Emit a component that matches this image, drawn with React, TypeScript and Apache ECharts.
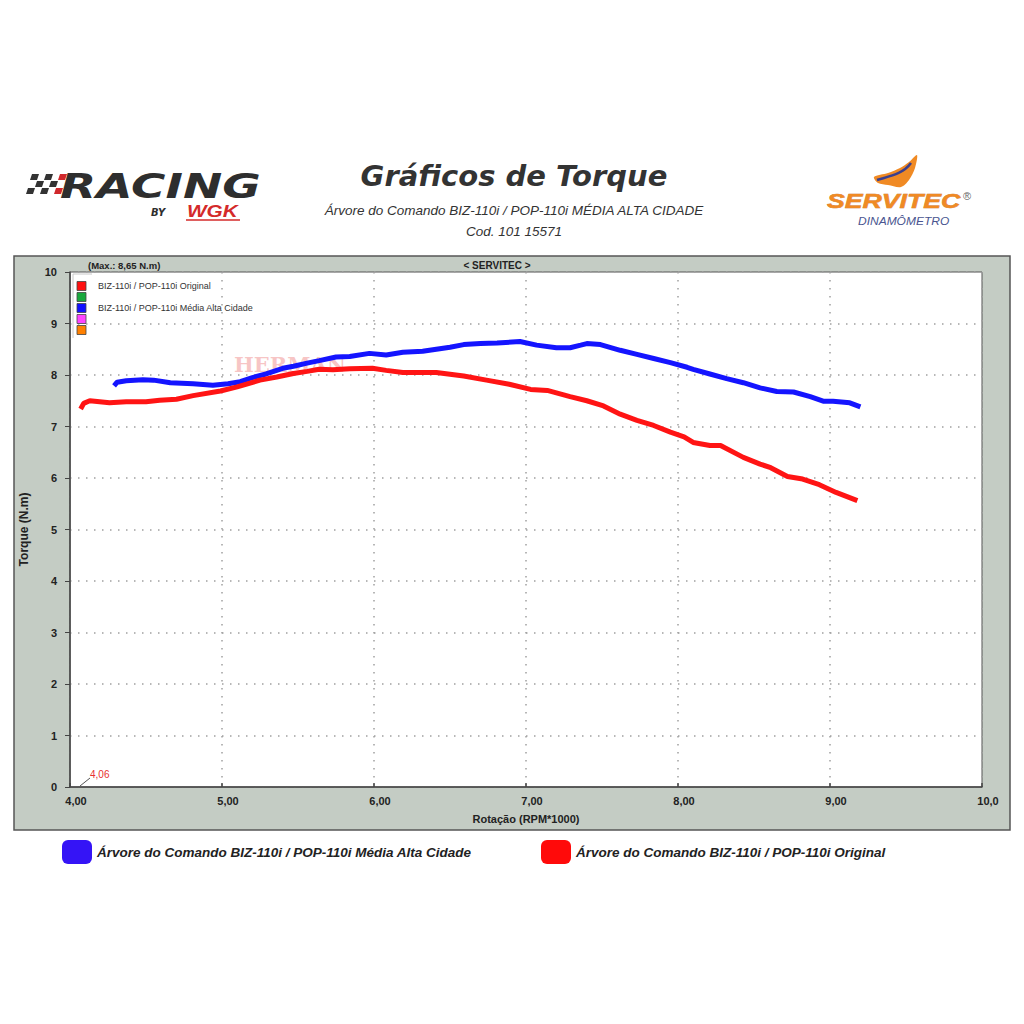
import React, { useEffect, useRef } from "react";
import * as echarts from "echarts";

// ---- data ----
const blueName = "Árvore do Comando BIZ-110i / POP-110i Média Alta Cidade";
const redName = "Árvore do Comando BIZ-110i / POP-110i Original";

const rpmBlue = [4.29, 4.31, 4.37, 4.48, 4.55, 4.66, 4.81, 4.94, 5.04, 5.12, 5.2, 5.29, 5.4, 5.47, 5.56, 5.64, 5.75, 5.84, 5.97, 6.08, 6.19, 6.32, 6.41, 6.5, 6.59, 6.7, 6.81, 6.96, 7.07, 7.2, 7.29, 7.36, 7.4, 7.49, 7.62, 7.73, 7.84, 7.95, 8.06, 8.1, 8.21, 8.32, 8.43, 8.54, 8.65, 8.76, 8.87, 8.96, 9.02, 9.13, 9.2];
const torqueBlue = [7.79, 7.86, 7.89, 7.91, 7.9, 7.85, 7.83, 7.8, 7.83, 7.87, 7.95, 8.02, 8.13, 8.17, 8.23, 8.28, 8.35, 8.36, 8.42, 8.39, 8.44, 8.46, 8.5, 8.54, 8.59, 8.61, 8.62, 8.65, 8.58, 8.53, 8.53, 8.58, 8.61, 8.59, 8.48, 8.4, 8.32, 8.24, 8.15, 8.11, 8.02, 7.93, 7.85, 7.75, 7.68, 7.67, 7.58, 7.49, 7.49, 7.46, 7.38];

const rpmRed = [4.07, 4.09, 4.13, 4.26, 4.37, 4.5, 4.59, 4.7, 4.81, 4.99, 5.1, 5.25, 5.36, 5.47, 5.56, 5.64, 5.73, 5.84, 5.99, 6.08, 6.19, 6.41, 6.59, 6.74, 6.89, 7.03, 7.14, 7.29, 7.4, 7.51, 7.62, 7.73, 7.84, 7.95, 8.04, 8.1, 8.21, 8.28, 8.43, 8.54, 8.61, 8.72, 8.82, 8.93, 9.04, 9.18];
const torqueRed = [7.34, 7.45, 7.5, 7.46, 7.48, 7.48, 7.51, 7.53, 7.6, 7.69, 7.77, 7.9, 7.96, 8.03, 8.07, 8.11, 8.1, 8.12, 8.13, 8.09, 8.05, 8.05, 7.98, 7.9, 7.82, 7.72, 7.7, 7.58, 7.5, 7.4, 7.24, 7.12, 7.02, 6.89, 6.8, 6.69, 6.63, 6.63, 6.4, 6.27, 6.2, 6.03, 5.98, 5.87, 5.72, 5.56];

const innerLegendLabels = ["BIZ-110i / POP-110i Original", "", "BIZ-110i / POP-110i Média Alta Cidade", "", ""];
const innerLegendColors = ["#ff1010", "#18a83c", "#1010ff", "#ff44ff", "#ff8000"];

const xTickFmt = (v: number) => (v === 10 ? "10,0" : v.toFixed(2).replace(".", ","));

export default function App() {
  const ref = useRef<HTMLDivElement>(null);
  useEffect(() => {
    if (!ref.current) return;
    const chart = echarts.init(ref.current, null, { renderer: "svg" });

    const checker: any[] = [];
    const rows = 3, cols = 5;
    for (let r = 0; r < rows; r++) {
      for (let c = 0; c < cols; c++) {
        if ((r + c) % 2 !== 0) continue;
        const x0 = 24 + c * 7 + (rows - r) * 2;
        const y0 = 174 + r * 7;
        const red = c >= 4;
        checker.push({
          type: "polygon",
          shape: { points: [[x0 + 2, y0], [x0 + 9, y0], [x0 + 7, y0 + 6], [x0, y0 + 6]] },
          style: { fill: red ? "#d0282c" : "#333" },
        });
      }
    }

    const innerLegend: any[] = [];
    innerLegendColors.forEach((c, i) => {
      const cy = 286 + i * 11;
      innerLegend.push({
        type: "rect",
        shape: { x: 77, y: cy - 4.5, width: 9, height: 9 },
        style: { fill: c, stroke: "#444", lineWidth: 0.8 },
        z: 10,
      });
      if (innerLegendLabels[i]) {
        innerLegend.push({
          type: "text",
          x: 98,
          y: cy,
          style: { text: innerLegendLabels[i], fill: "#333", font: "9px 'Liberation Sans', Arial, sans-serif", textVerticalAlign: "middle" },
          z: 10,
        });
      }
    });

    const legendText = { color: "#222", fontSize: 13.5, fontWeight: "bold", fontStyle: "italic", fontFamily: "'Liberation Sans', Arial, sans-serif" };

    chart.setOption({
      animation: false,
      backgroundColor: "#ffffff",
      grid: {
        left: 70,
        right: 42,
        top: 272,
        bottom: 237,
        show: true,
        backgroundColor: "#ffffff",
        borderColor: "#555",
        borderWidth: 1,
      },
      xAxis: {
        type: "value",
        min: 4,
        max: 10,
        interval: 1,
        z: 3,
        name: "Rotação (RPM*1000)",
        nameLocation: "middle",
        nameGap: 26,
        nameTextStyle: { color: "#222", fontWeight: "bold", fontSize: 11, fontFamily: "'Liberation Sans', Arial, sans-serif" },
        axisLine: { lineStyle: { color: "#444", width: 1.5 } },
        axisTick: { show: true, length: 4, inside: true, lineStyle: { color: "#444", width: 1.5 } },
        axisLabel: {
          formatter: xTickFmt,
          color: "#222",
          fontWeight: "bold",
          fontSize: 11,
          margin: 8,
          padding: [0, 0, 0, 12],
          fontFamily: "'Liberation Sans', Arial, sans-serif",
        },
        splitLine: { show: true, lineStyle: { color: "#a0a0a0", width: 1.5, type: [1.5, 6.5] } },
      },
      yAxis: {
        type: "value",
        min: 0,
        max: 10,
        interval: 1,
        z: 3,
        name: "Torque (N.m)",
        nameLocation: "middle",
        nameGap: 40,
        nameTextStyle: { color: "#222", fontWeight: "bold", fontSize: 12, fontFamily: "'Liberation Sans', Arial, sans-serif" },
        axisLine: { show: true, lineStyle: { color: "#444", width: 1.5 } },
        axisTick: { show: true, length: 5, lineStyle: { color: "#444", width: 1 } },
        axisLabel: { color: "#222", fontWeight: "bold", fontSize: 11, margin: 13, fontFamily: "'Liberation Sans', Arial, sans-serif" },
        splitLine: { show: true, lineStyle: { color: "#a0a0a0", width: 1.5, type: [1.5, 6.5] } },
      },
      legend: [
        {
          left: 57,
          top: 835,
          icon: "roundRect",
          itemWidth: 30,
          itemHeight: 24,
          data: [{ name: blueName, itemStyle: { color: "#3514f6" } }],
          textStyle: legendText,
          selectedMode: false,
        },
        {
          left: 536,
          top: 835,
          icon: "roundRect",
          itemWidth: 30,
          itemHeight: 24,
          data: [{ name: redName, itemStyle: { color: "#ff0a0a" } }],
          textStyle: legendText,
          selectedMode: false,
        },
      ],
      series: [
        {
          name: blueName,
          type: "line",
          data: rpmBlue.map((x, i) => [x, torqueBlue[i]]),
          showSymbol: false,
          lineStyle: { color: "#1414ff", width: 5 },
          itemStyle: { color: "#1414ff" },
          z: 5,
        },
        {
          name: redName,
          type: "line",
          data: rpmRed.map((x, i) => [x, torqueRed[i]]),
          showSymbol: false,
          lineStyle: { color: "#ff1414", width: 5 },
          itemStyle: { color: "#ff1414" },
          z: 5,
        },
      ],
      graphic: [
        // outer frame
        {
          type: "rect",
          z: -10,
          shape: { x: 14, y: 256, width: 996, height: 574 },
          style: { fill: "#c4ccc4", stroke: "#555", lineWidth: 1.5 },
        },
        // header texts
        {
          type: "text",
          x: 88,
          y: 265,
          z: 10,
          style: { text: "(Max.: 8,65 N.m)", fill: "#222", font: "bold 9.5px 'Liberation Sans', Arial, sans-serif", textVerticalAlign: "middle" },
        },
        {
          type: "text",
          x: 497,
          y: 265,
          z: 10,
          style: { text: "< SERVITEC >", fill: "#222", font: "bold 10px 'Liberation Sans', Arial, sans-serif", textAlign: "center", textVerticalAlign: "middle" },
        },
        // faint legend box border
        {
          type: "polyline",
          z: 10,
          shape: { points: [[92, 274], [73, 274], [73, 338]] },
          style: { stroke: "#c8c8c8", lineWidth: 1, fill: "none" },
        },
        ...innerLegend,
        // watermark
        {
          type: "text",
          x: 290,
          y: 364,
          z: 3,
          style: { text: "HERMAN", fill: "rgba(240,140,140,0.5)", font: "bold 21px 'DejaVu Serif', serif", textAlign: "center", textVerticalAlign: "middle" },
        },
        // 4,06 annotation
        {
          type: "line",
          z: 10,
          shape: { x1: 80, y1: 786, x2: 90, y2: 778 },
          style: { stroke: "#555", lineWidth: 1 },
        },
        {
          type: "text",
          x: 90,
          y: 774,
          z: 10,
          style: { text: "4,06", fill: "#e83030", font: "10px 'Liberation Sans', Arial, sans-serif", textVerticalAlign: "middle" },
        },
        // Titles
        {
          type: "text",
          x: 514,
          y: 176,
          style: { text: "Gráficos de Torque", fill: "#333", font: "italic 900 29px 'DejaVu Sans', 'Liberation Sans', sans-serif", textAlign: "center", textVerticalAlign: "middle" },
        },
        {
          type: "text",
          x: 514,
          y: 210,
          style: { text: "Árvore do Comando BIZ-110i / POP-110i MÉDIA ALTA CIDADE", fill: "#333", font: "italic 13.5px 'Liberation Sans', Arial, sans-serif", textAlign: "center", textVerticalAlign: "middle" },
        },
        {
          type: "text",
          x: 514,
          y: 231,
          style: { text: "Cod. 101 15571", fill: "#333", font: "italic 13.5px 'Liberation Sans', Arial, sans-serif", textAlign: "center", textVerticalAlign: "middle" },
        },
        // Racing logo
        ...checker,
        {
          type: "text",
          x: 60,
          y: 186,
          scaleX: 1.38,
          style: { text: "RACING", fill: "#2e2e2e", font: "italic 900 34px 'DejaVu Sans', sans-serif", textVerticalAlign: "middle" },
        },
        {
          type: "text",
          x: 151,
          y: 212,
          style: { text: "BY", fill: "#2e2e2e", font: "italic bold 10px 'DejaVu Sans', sans-serif", textVerticalAlign: "middle" },
        },
        {
          type: "text",
          x: 187,
          y: 211,
          scaleX: 1.3,
          style: { text: "WGK", fill: "#d42a2a", font: "italic bold 16px 'Liberation Sans', Arial, sans-serif", textVerticalAlign: "middle" },
        },
        {
          type: "line",
          shape: { x1: 186, y1: 220, x2: 240, y2: 220 },
          style: { stroke: "#d42a2a", lineWidth: 1.5 },
        },
        // Servitec logo swoosh
        {
          type: "polygon",
          shape: {
            points: [[874, 177], [888, 173], [900, 168], [909, 162], [917, 155], [915, 168], [909, 180], [901, 187], [888, 185], [878, 183]],
            smooth: 0.3,
          },
          style: { fill: "#f08a24" },
        },
        {
          type: "bezierCurve",
          shape: { x1: 877, y1: 180, cpx1: 890, cpy1: 176, cpx2: 903, cpy2: 174, x2: 911, y2: 163 },
          style: { stroke: "#3a3f8f", lineWidth: 2.5, fill: "none" },
        },
        {
          type: "text",
          x: 827,
          y: 201,
          scaleX: 1.27,
          style: { text: "SERVITEC", fill: "#f08a24", stroke: "#c86a14", lineWidth: 0.5, font: "italic bold 21px 'Liberation Sans', Arial, sans-serif", textVerticalAlign: "middle" },
        },
        {
          type: "text",
          x: 963,
          y: 196,
          style: { text: "®", fill: "#666", font: "11px 'Liberation Sans', Arial, sans-serif", textVerticalAlign: "middle" },
        },
        {
          type: "text",
          x: 858,
          y: 221,
          scaleX: 1.2,
          style: { text: "DINAMÔMETRO", fill: "#4a5590", font: "italic 10px 'Liberation Sans', Arial, sans-serif", textVerticalAlign: "middle" },
        },
      ],
    });
    return () => chart.dispose();
  }, []);
  return <div ref={ref} style={{ position: "fixed", left: 0, top: 0, width: 1024, height: 1024, background: "#fff" }} />;
}
